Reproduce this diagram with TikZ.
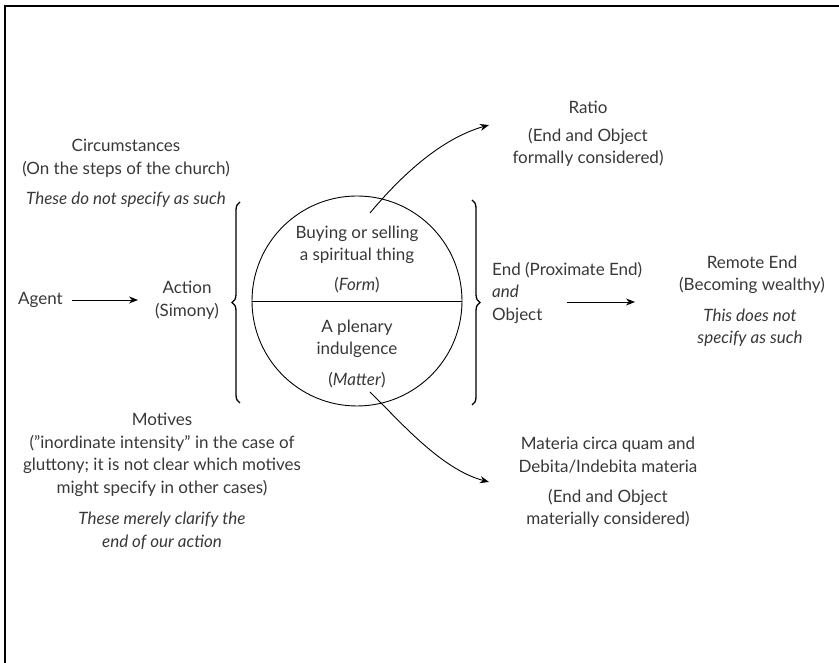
\documentclass[tikz,border=0pt]{standalone}
\usepackage{fontspec}
\setmainfont{Lato}
\usetikzlibrary{decorations.pathreplacing,arrows.meta}
\begin{document}
\begin{tikzpicture}[x=1pt,y=1pt,
 txt/.style={font=\fontsize{17}{22.5}\selectfont, text=black!78, align=center, inner sep=0pt},
 itx/.style={txt, font=\fontsize{17}{22.5}\selectfont\itshape},
 arr/.style={-{Stealth[length=9pt,width=7pt]}, line width=0.9pt},
 brc/.style={decorate, decoration={brace, amplitude=8pt}, line width=1.3pt}]
\useasboundingbox (0,0) rectangle (839,663);
\draw[line width=2.3pt] (5.3,0) -- (5.3,656.8) -- (839,656.8);

% left column
\node[txt] (circ) at (126,504.5) {Circumstances\\(On the steps of the church)};
\node[itx] (circnote) at (126,463) {These do not specify as such};
\node[txt] (agent) at (40.5,363) {Agent};
\node[txt] (action) at (187,363) {Action\\(Simony)};
\node[txt] (motives) at (162,208) {Motives\\("inordinate intensity" in the case of\\gluttony; it is not clear which motives\\might specify in other cases)};
\node[itx] (motnote) at (162,132) {These merely clarify the\\end of our action};

% circle
\node[circle, draw, line width=0.9pt, minimum size=210pt, inner sep=0pt] (c) at (357,362) {};
\draw[line width=0.9pt] (c.west) -- (c.east);
\node[txt] (form) at (357,418) {Buying or selling\\a spiritual thing};
\node[txt] (formlab) at (357,378) {(\textit{Form})};
\node[txt] (matter) at (357,324) {A plenary\\indulgence};
\node[txt] (matterlab) at (357,283) {(\textit{Matter})};

% braces
\coordinate (lb1) at (240,260);
\coordinate (lb2) at (240,461);
\coordinate (rb1) at (472,463);
\coordinate (rb2) at (472,258);
\draw[brc] (lb1) -- (lb2);
\draw[brc] (rb1) -- (rb2);

% right column
\node[txt] (ratio) at (588,556) {Ratio};
\node[txt] (ratiolab) at (588,515.5) {(End and Object\\formally considered)};
\node[txt, align=left, anchor=west] (endobj) at (492,370.5) {End (Proximate End)\\\textit{and}\\Object};
\node[txt] (remote) at (752,388) {Remote End\\(Becoming wealthy)};
\node[itx] (remnote) at (750,335.5) {This does not\\specify as such};
\node[txt] (materia) at (608,208) {Materia circa quam and\\Debita/Indebita materia};
\node[txt] (materialab) at (608,154.5) {(End and Object\\materially considered)};

% connectors
\coordinate (ag1) at (72,363);
\coordinate (ac1) at (138,363);
\draw[arr] (ag1) -- (ac1);
\coordinate (e1) at (567,361);
\coordinate (e2) at (635,361);
\draw[arr] (e1) -- (e2);
\coordinate (rs) at (370,450);
\coordinate (rt) at (489,538);
\draw[arr] (rs) .. controls (400,486) and (440,524) .. (rt);
\coordinate (ms) at (370,271);
\coordinate (mt) at (489,181);
\draw[arr] (ms) .. controls (398,244) and (440,194) .. (mt);
\end{tikzpicture}
\end{document}
